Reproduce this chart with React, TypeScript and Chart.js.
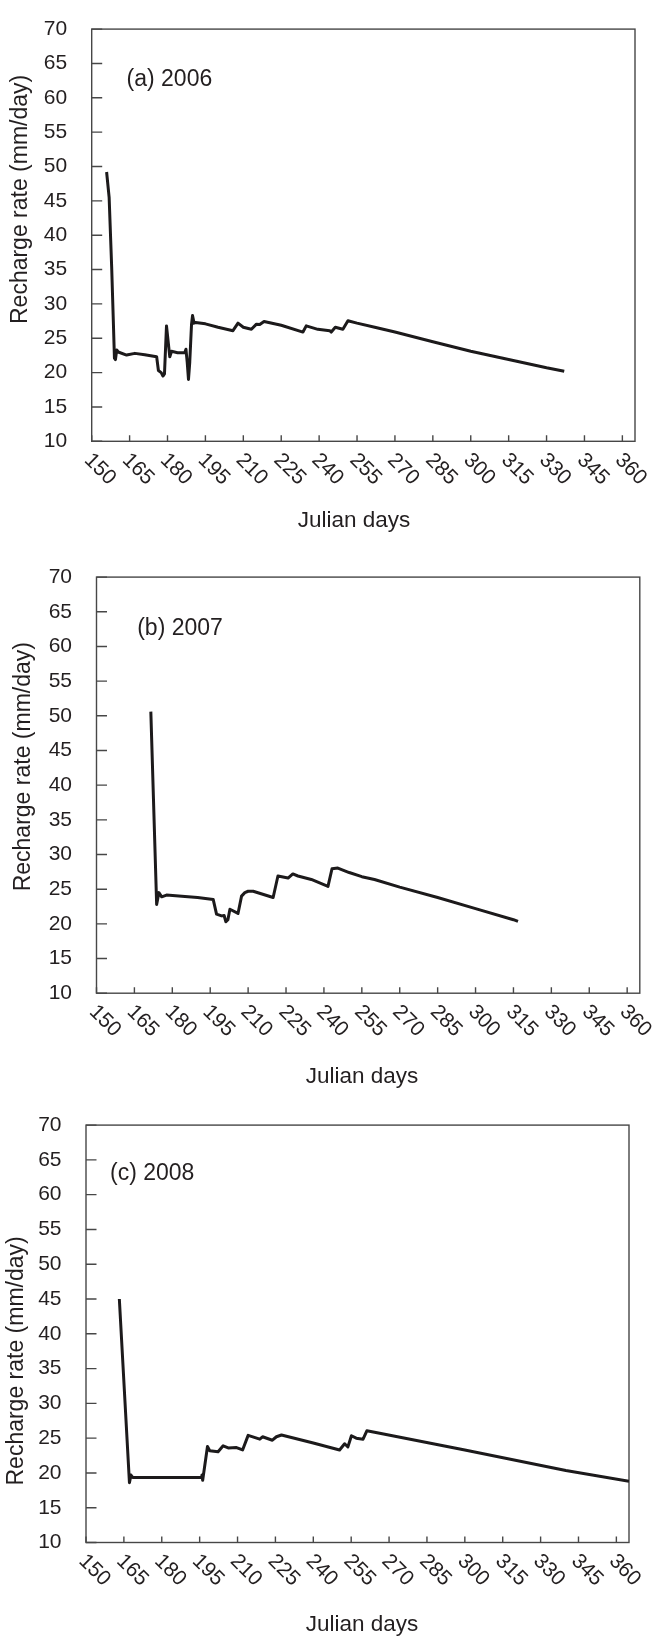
import React, { useEffect, useRef } from "react";
import { Chart, registerables } from "chart.js";

Chart.register(...registerables);

// ---------- data ----------
const X_TICKS = [150, 165, 180, 195, 210, 225, 240, 255, 270, 285, 300, 315, 330, 345, 360];
const Y_TICKS = [10, 15, 20, 25, 30, 35, 40, 45, 50, 55, 60, 65, 70];
const X_MIN = 150;
const X_MAX = 365;
const Y_MIN = 10;
const Y_MAX = 70;
const X_TITLE = "Julian days";
const Y_TITLE = "Recharge rate (mm/day)";
const PANEL_LABELS = ["(a) 2006", "(b) 2007", "(c) 2008"];

const DAYS_2006 = [
  155.9, 156.9, 157.9, 158.6, 159.0, 159.4, 159.9, 160.5, 163.8, 167.1, 171.0, 175.7,
  176.4, 177.5, 178.2, 178.8, 179.6, 180.9, 181.6, 184.0, 186.8, 187.3, 187.8, 188.3,
  188.8, 189.5, 189.9, 190.5, 191.1, 195.0, 200.0, 205.9, 207.9, 210.0, 213.2, 215.2,
  216.5, 218.2, 225.0, 233.6, 234.9, 239.5, 244.2, 244.8, 246.4, 249.4, 251.4, 255.0,
  262.0, 270.0, 285.0, 300.0, 315.0, 330.0, 337.0,
];
const RATE_2006 = [
  49.2, 45.5, 35.4, 27.0, 22.1, 21.9, 23.3, 23.0, 22.55, 22.8, 22.6, 22.3,
  20.3, 20.0, 19.5, 19.8, 26.8, 22.3, 23.1, 22.9, 22.9, 23.4, 21.5, 19.0,
  21.5, 27.0, 28.3, 27.2, 27.3, 27.1, 26.6, 26.1, 27.2, 26.6, 26.3, 27.05,
  27.0, 27.45, 26.9, 25.9, 26.8, 26.3, 26.1, 25.9, 26.6, 26.3, 27.55, 27.2,
  26.6, 25.9, 24.5, 23.1, 21.9, 20.7, 20.2,
];

const DAYS_2007 = [
  171.5, 173.8, 174.7, 175.8, 177.7, 185.0, 190.0, 196.2, 197.5, 199.5, 200.5, 201.2,
  202.0, 202.8, 206.0, 207.4, 208.7, 210.0, 212.0, 219.9, 221.8, 225.8, 227.7, 229.7,
  235.0, 241.6, 243.2, 245.5, 250.0, 255.0, 260.0, 270.0, 285.0, 300.0, 315.0, 316.8,
];
const RATE_2007 = [
  50.6, 22.8, 24.5, 23.9, 24.15, 23.95, 23.8, 23.5, 21.4, 21.15, 21.2, 20.3,
  20.6, 22.1, 21.5, 24.0, 24.5, 24.7, 24.7, 23.8, 26.9, 26.6, 27.2, 26.9,
  26.4, 25.4, 27.95, 28.05, 27.4, 26.8, 26.4, 25.3, 23.8, 22.2, 20.6, 20.35,
];

const DAYS_2008 = [
  163.2, 167.2, 167.8, 168.5, 195.6, 195.9, 196.2, 198.1, 199.0, 202.3, 204.3, 206.3,
  209.6, 212.0, 214.2, 218.8, 219.9, 223.8, 225.4, 227.4, 240.0, 250.4, 252.4, 253.7,
  255.1, 257.0, 259.7, 261.2, 266.3, 300.0, 340.0, 365.0,
];
const RATE_2008 = [
  45.0, 18.6, 19.7, 19.35, 19.35, 19.7, 18.95, 23.8, 23.2, 23.05, 23.9, 23.6,
  23.65, 23.3, 25.4, 24.85, 25.2, 24.7, 25.2, 25.45, 24.3, 23.3, 24.2, 23.75,
  25.35, 25.0, 24.85, 26.05, 25.7, 23.3, 20.35, 18.8,
];

// ---------- styles / layout ----------
const FONT = "'Liberation Sans', Arial, Helvetica, sans-serif";
const TEXT_COLOR = "#231f20";
const LINE_COLOR = "#1c1a1b";
const AXIS_COLOR = "#474747";
const PAGE_W = 653;

type Geom = {
  pageTop: number;
  H: number;
  area: { left: number; right: number; top: number; bottom: number };
  yTitle: { x: number; y: number };
  xTitle: { x: number; y: number };
  labelAt: { day: number; rate: number };
};

const GEOMS: Geom[] = [
  {
    pageTop: 0,
    H: 548,
    area: { left: 91.7, right: 635, top: 20.6, bottom: 441.3 },
    yTitle: { x: 21, y: 199.4 },
    xTitle: { x: 354, y: 521 },
    labelAt: { day: 163.8, rate: 62.6 },
  },
  {
    pageTop: 548,
    H: 548,
    area: { left: 96.5, right: 639.8, top: 24.5, bottom: 445.2 },
    yTitle: { x: 24, y: 218.7 },
    xTitle: { x: 362, y: 529 },
    labelAt: { day: 166.1, rate: 62.6 },
  },
  {
    pageTop: 1096,
    H: 546,
    area: { left: 86, right: 629, top: 25.8, bottom: 446.5 },
    yTitle: { x: 17, y: 264.9 },
    xTitle: { x: 362, y: 528.6 },
    labelAt: { day: 159.5, rate: 63.05 },
  },
];

function makePlugin(label: string, g: Geom) {
  return {
    id: "frameAndLabels",
    beforeDatasetsDraw(chart: any) {
      const { ctx, chartArea: a, scales } = chart;
      const x = scales.x;
      const y = scales.y;
      ctx.save();
      ctx.strokeStyle = AXIS_COLOR;
      ctx.lineWidth = 1.4;
      ctx.strokeRect(a.left, a.top, a.right - a.left, a.bottom - a.top);
      ctx.beginPath();
      for (const v of X_TICKS) {
        const px = x.getPixelForValue(v);
        ctx.moveTo(px, a.bottom);
        ctx.lineTo(px, a.bottom - 6);
      }
      for (const v of Y_TICKS) {
        const py = y.getPixelForValue(v);
        ctx.moveTo(a.left, py);
        ctx.lineTo(a.left + 10.5, py);
      }
      ctx.stroke();
      ctx.restore();
    },
    afterDraw(chart: any) {
      const { ctx, chartArea: a, scales } = chart;
      const x = scales.x;
      const y = scales.y;
      ctx.save();
      ctx.fillStyle = TEXT_COLOR;
      // rotated x tick labels
      ctx.font = `21px ${FONT}`;
      ctx.textAlign = "left";
      ctx.textBaseline = "middle";
      for (const v of X_TICKS) {
        const px = x.getPixelForValue(v);
        ctx.save();
        ctx.translate(px - 4, a.bottom + 15.5);
        ctx.rotate(Math.PI / 4);
        ctx.fillText(String(v), 0, 0);
        ctx.restore();
      }
      // panel label
      ctx.font = `23px ${FONT}`;
      ctx.fillText(label, x.getPixelForValue(g.labelAt.day), y.getPixelForValue(g.labelAt.rate));
      // axis titles
      ctx.textAlign = "center";
      ctx.font = `22.5px ${FONT}`;
      ctx.fillText(X_TITLE, g.xTitle.x, g.xTitle.y);
      ctx.save();
      ctx.translate(g.yTitle.x, g.yTitle.y);
      ctx.rotate(-Math.PI / 2);
      ctx.font = `23px ${FONT}`;
      ctx.fillText(Y_TITLE, 0, 0);
      ctx.restore();
      ctx.restore();
    },
  };
}

function Panel(props: { days: number[]; rates: number[]; label: string; g: Geom }) {
  const ref = useRef<HTMLCanvasElement>(null);
  useEffect(() => {
    const { days, rates, label, g } = props;
    const canvas = ref.current!;
    const chart = new Chart(canvas, {
      type: "line",
      data: {
        datasets: [
          {
            data: days.map((d, i) => ({ x: d, y: rates[i] })),
            borderColor: LINE_COLOR,
            borderWidth: 3,
            pointRadius: 0,
            tension: 0,
            fill: false,
            borderJoinStyle: "round",
            borderCapStyle: "butt",
          },
        ],
      },
      options: {
        responsive: false,
        maintainAspectRatio: false,
        animation: false,
        devicePixelRatio: 1,
        events: [],
        layout: {
          padding: { left: 0, top: g.area.top, right: PAGE_W - g.area.right, bottom: 0 },
        },
        plugins: { legend: { display: false }, tooltip: { enabled: false } },
        scales: {
          x: {
            type: "linear",
            min: X_MIN,
            max: X_MAX,
            grid: { display: false },
            border: { display: false },
            ticks: { display: false },
            afterBuildTicks: (s: any) => {
              s.ticks = X_TICKS.map((v) => ({ value: v }));
            },
            afterFit: (s: any) => {
              s.height = g.H - g.area.bottom;
            },
          },
          y: {
            type: "linear",
            min: Y_MIN,
            max: Y_MAX,
            grid: { display: false },
            border: { display: false },
            ticks: { font: { size: 21, family: FONT }, color: TEXT_COLOR, padding: 16.5 },
            afterBuildTicks: (s: any) => {
              s.ticks = Y_TICKS.map((v) => ({ value: v }));
            },
            afterFit: (s: any) => {
              s.width = g.area.left;
            },
          },
        },
      } as any,
      plugins: [makePlugin(label, g)],
    });
    return () => chart.destroy();
  }, []);
  return (
    <canvas
      ref={ref}
      width={PAGE_W}
      height={props.g.H}
      style={{ position: "absolute", left: 0, top: props.g.pageTop, display: "block" }}
    />
  );
}

export default function App() {
  return (
    <div
      style={{
        position: "absolute",
        left: 0,
        top: 0,
        width: PAGE_W,
        height: 1642,
        background: "#ffffff",
        overflow: "hidden",
      }}
    >
      <Panel days={DAYS_2006} rates={RATE_2006} label={PANEL_LABELS[0]} g={GEOMS[0]} />
      <Panel days={DAYS_2007} rates={RATE_2007} label={PANEL_LABELS[1]} g={GEOMS[1]} />
      <Panel days={DAYS_2008} rates={RATE_2008} label={PANEL_LABELS[2]} g={GEOMS[2]} />
    </div>
  );
}
